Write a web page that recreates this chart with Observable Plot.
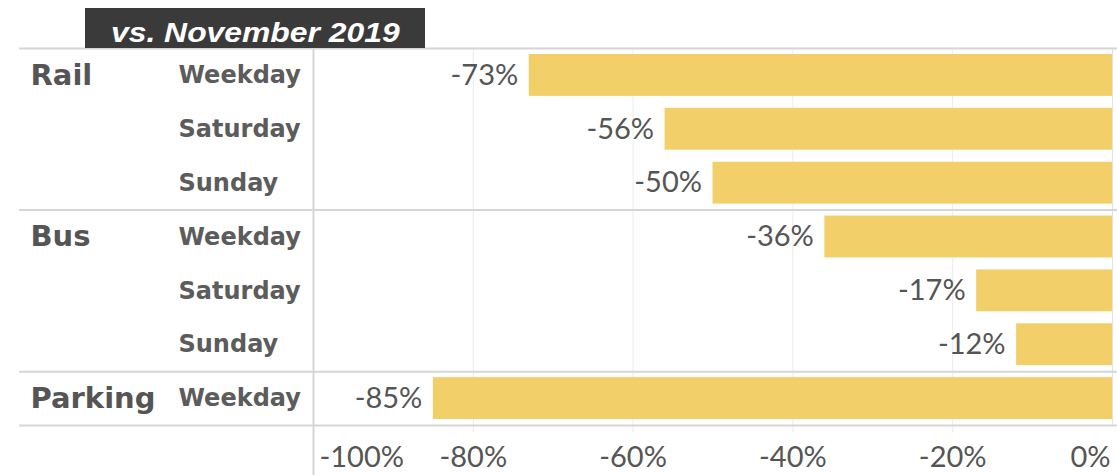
<!DOCTYPE html>
<html>
<head>
<meta charset="utf-8">
<script src="https://cdn.jsdelivr.net/npm/d3@7"></script>
<script src="https://cdn.jsdelivr.net/npm/@observablehq/plot@0.6"></script>
<style>
  html, body { margin: 0; padding: 0; background: #fff; }
  #wrap { position: relative; width: 1117px; height: 475px; overflow: hidden; }
  #hdr { position: absolute; left: 85px; top: 8px; width: 340px; height: 40px; background: #3b3a3a;
         color: #fff; font: italic bold 27px "Liberation Sans", Arial, sans-serif; text-align: center;
         line-height: 50px; overflow: hidden; white-space: nowrap; }
  #hdr span { display: inline-block; transform: scaleX(1.18); transform-origin: 50% 50%; }
  #chart { position: absolute; left: 0; top: 0; }
</style>
</head>
<body>
<div id="wrap">
  <div id="chart"></div>
  <div id="hdr"><span>vs. November 2019</span></div>
</div>
<script>
const groups = ["Rail", "Rail", "Rail", "Bus", "Bus", "Bus", "Parking"];
const days = ["Weekday", "Saturday", "Sunday", "Weekday", "Saturday", "Sunday", "Weekday"];
const values = [-73, -56, -50, -36, -17, -12, -85];
const tickValues = [-100, -80, -60, -40, -20, 0];
const tickLabels = ["-100%", "-80%", "-60%", "-40%", "-20%", "0%"];

const rows = values.map((v, i) => ({i, group: groups[i], day: days[i], value: v,
  showGroup: i === 0 || groups[i] !== groups[i - 1]}));
const boundaries = [0];
rows.forEach((r, i) => { if (i > 0 && r.showGroup) boundaries.push(i); });
boundaries.push(rows.length);
const ticks = tickValues.map((t, k) => ({t, label: tickLabels[k]}));

const labelFont = "'DejaVu Sans', sans-serif";
const numFont = "Lato, 'Open Sans', sans-serif";
const ink = "#555555";
const lineCol = "#d6d6d6";

const plot = Plot.plot({
  width: 1117,
  height: 475,
  marginLeft: 313,
  marginRight: 5,
  marginTop: 48,
  marginBottom: 50,
  style: {fontFamily: numFont, background: "transparent", overflow: "visible"},
  x: {domain: [-100, 0], axis: null},
  y: {domain: [rows.length, 0], axis: null},
  marks: [
    // faint gridlines
    Plot.ruleX(tickValues.filter(t => t > -100 && t < 0), {y1: 0, y2: rows.length, insetBottom: -7, stroke: "#ececec", strokeWidth: 1}),
    // bars
    Plot.rectX(rows, {x1: "value", x2: 0, y1: "i", y2: d => d.i + 1, insetTop: 6, insetBottom: 6, fill: "#f2cf69"}),
    // zero line
    Plot.ruleX([0], {y1: 0, y2: rows.length, stroke: "#e2e2e2", strokeWidth: 1}),
    // group separators
    Plot.ruleY(boundaries, {insetLeft: -294, insetRight: -5, stroke: lineCol, strokeWidth: 2}),
    // left vertical divider
    Plot.ruleX([-100], {y1: 0, y2: rows.length, insetBottom: -50, stroke: lineCol, strokeWidth: 2}),
    // group labels
    Plot.text(rows.filter(r => r.showGroup), {y: d => d.i + 0.5, text: "group", frameAnchor: "left", dx: -283,
      textAnchor: "start", fontSize: 29, fontWeight: "bold", fontFamily: labelFont, fill: ink}),
    // day labels
    Plot.text(rows, {y: d => d.i + 0.5, text: "day", frameAnchor: "left", dx: -135,
      textAnchor: "start", fontSize: 24, fontWeight: "bold", fontFamily: labelFont, fill: "#5c5c5c"}),
    // value labels
    Plot.text(rows, {x: "value", y: d => d.i + 0.5, text: d => d.value + "%", textAnchor: "end", dx: -11,
      fontSize: 29, fill: ink}),
    // axis tick labels
    Plot.text(ticks.filter(d => d.t === -100), {x: "t", text: "label", frameAnchor: "bottom", dy: 41, dx: 6,
      textAnchor: "start", fontSize: 29, fill: ink}),
    Plot.text(ticks.filter(d => d.t > -100 && d.t < 0), {x: "t", text: "label", frameAnchor: "bottom", dy: 41,
      textAnchor: "middle", fontSize: 29, fill: ink}),
    Plot.text(ticks.filter(d => d.t === 0), {x: "t", text: "label", frameAnchor: "bottom", dy: 41, dx: -2,
      textAnchor: "end", fontSize: 29, fill: ink})
  ]
});
document.getElementById("chart").appendChild(plot);
</script>
</body>
</html>
